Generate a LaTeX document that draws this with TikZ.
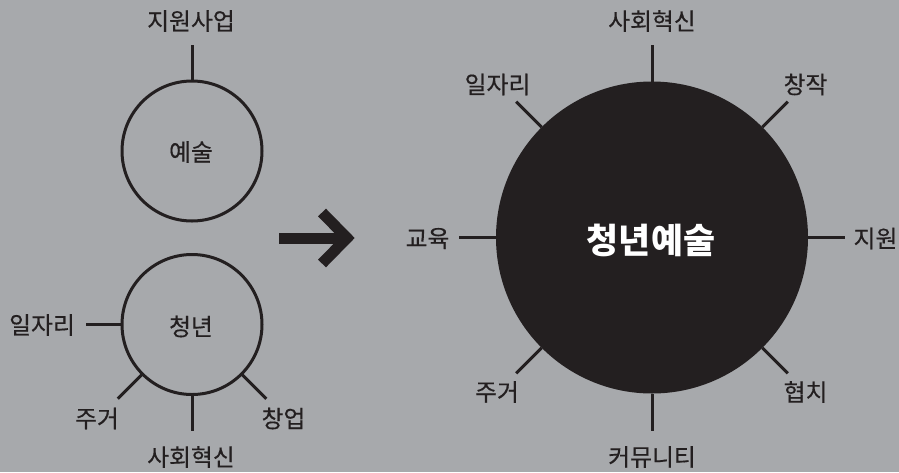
\documentclass[tikz,border=0pt]{standalone}
\usepackage{fontspec}
\usetikzlibrary{calc}
\newfontfamily\kr{Noto Sans CJK KR}[FakeBold=0.4]
\newfontfamily\krb{Noto Sans CJK KR}
\definecolor{bg}{RGB}{167,169,172}
\definecolor{ink}{RGB}{35,31,32}
\tikzset{
  lbl/.style={font=\kr\fontsize{23.8}{28}\selectfont, text=ink, inner sep=0pt},
  ring/.style={circle, draw=ink, line width=3pt, inner sep=0pt, outer sep=0pt, minimum size=140pt},
  conn/.style={draw=ink, line width=3pt},
}
\begin{document}
\begin{tikzpicture}[x=1pt,y=-1pt]
\fill[bg] (0,0) rectangle (899,472);
\useasboundingbox (0,0) rectangle (899,472);

% left: 예술
\node[ring] (art) at (192,151) {};
\node[lbl] at (191,152) {예술};
\node[lbl] (artsup) at (191,21) {지원사업};
\coordinate (artsupE) at (192,45);
\draw[conn] (art.90) -- (artsupE);

% left: 청년
\node[ring] (youth) at (192,324.5) {};
\node[lbl] at (191,326.5) {청년};
\node[lbl] (yjob) at (42,325) {일자리};
\node[lbl] (yhouse) at (97,418.5) {주거};
\node[lbl] (ysoc) at (191,457) {사회혁신};
\node[lbl] (ystart) at (283.5,418.5) {창업};
\coordinate (yjobE) at (86,324.5);
\coordinate (yhouseE) at ($(youth.center)+(225:105pt)$);
\coordinate (ysocE) at (192,430.5);
\coordinate (ystartE) at ($(youth.center)+(-45:105pt)$);
\draw[conn] (youth.180) -- (yjobE);
\draw[conn] (youth.225) -- (yhouseE);
\draw[conn] (youth.270) -- (ysocE);
\draw[conn] (youth.315) -- (ystartE);

% arrow
\coordinate (arrS) at (279,238);
\coordinate (arrT) at (347,238);
\draw[ink, line width=11pt] (arrS) -- (342,238);
\draw[ink, line width=11pt, line join=miter] (322,212.5) -- (arrT) -- (322,263.5);

% right: 청년예술
\node[circle, fill=ink, inner sep=0pt, outer sep=0pt, minimum size=312pt] (big) at (652,237.5) {};
\node[font=\krb\bfseries\fontsize{34.8}{40}\selectfont, text=white, inner sep=0pt] at (651,240) {청년예술};

\node[lbl] (rsoc) at (652,21) {사회혁신};
\node[lbl] (rjob) at (497.5,84.5) {일자리};
\node[lbl] (rcre) at (805.5,84.5) {창작};
\node[lbl] (redu) at (427.5,238.5) {교육};
\node[lbl] (rsup) at (875.5,238.5) {지원};
\node[lbl] (rhouse) at (497,392) {주거};
\node[lbl] (rgov) at (805.5,392) {협치};
\node[lbl] (rcom) at (652,457) {커뮤니티};

\coordinate (rsocE) at (652,45);
\coordinate (rjobE) at ($(big.center)+(135:192pt)$);
\coordinate (rcreE) at ($(big.center)+(45:192pt)$);
\coordinate (reduE) at (458.5,237.5);
\coordinate (rsupE) at (844.5,237.5);
\coordinate (rhouseE) at ($(big.center)+(225:192pt)$);
\coordinate (rgovE) at ($(big.center)+(-45:192pt)$);
\coordinate (rcomE) at (652,430.5);

\draw[conn] (big.90) -- (rsocE);
\draw[conn] (big.135) -- (rjobE);
\draw[conn] (big.45) -- (rcreE);
\draw[conn] (big.180) -- (reduE);
\draw[conn] (big.0) -- (rsupE);
\draw[conn] (big.225) -- (rhouseE);
\draw[conn] (big.315) -- (rgovE);
\draw[conn] (big.270) -- (rcomE);
\end{tikzpicture}
\end{document}
